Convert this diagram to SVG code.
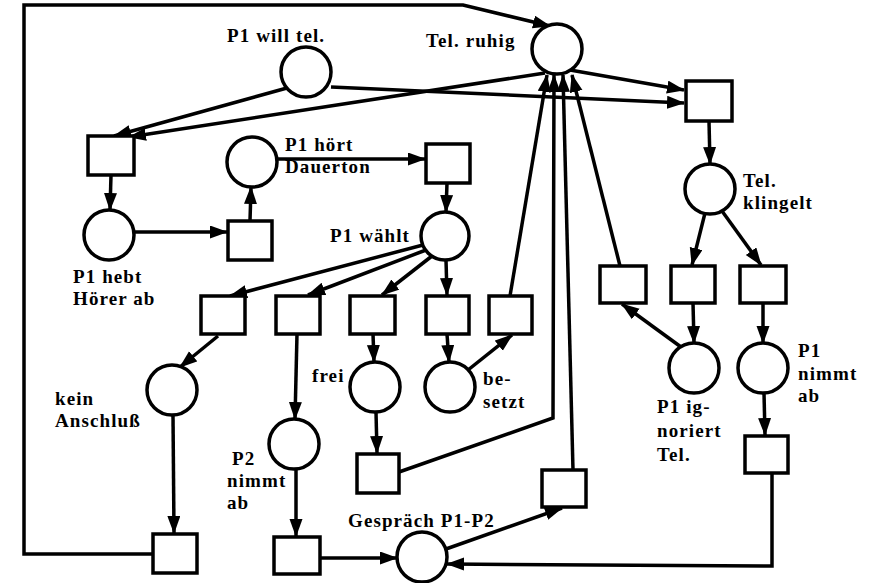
<svg xmlns="http://www.w3.org/2000/svg" width="874" height="583" viewBox="0 0 874 583">
<defs>
<marker id="ah" markerUnits="userSpaceOnUse" markerWidth="19" markerHeight="14" refX="17" refY="6.5" orient="auto">
<path d="M0,0 L18,6.5 L0,13 z" fill="#000"/>
</marker>
<style>
.p{fill:#fff;stroke:#000;stroke-width:3.5}
.t{fill:#fff;stroke:#000;stroke-width:3.5}
.c{fill:none;stroke:#000;stroke-width:3.5;stroke-linejoin:miter}
.a{marker-end:url(#ah)}
text{font-family:"Liberation Serif","Times New Roman",serif;font-weight:bold;font-size:19px;letter-spacing:1.1px;fill:#000}
</style>
</defs>
<rect width="874" height="583" fill="#fff"/>
<g id="connectors">
<path class="c a" d="M153,554 L24,554 L24,5 L463,5 L550,26"/>
<path class="c a" d="M287,88 L114,136"/>
<path class="c a" d="M545,73 L129,137"/>
<path class="c a" d="M570,70 L684,90"/>
<path class="c a" d="M331,87 L684,103"/>
<path class="c a" d="M111,175 L110,210"/>
<path class="c a" d="M134,232 L227,232"/>
<path class="c a" d="M250,221 L251,187"/>
<path class="c a" d="M277,159 L425,159"/>
<path class="c a" d="M447,183 L446,212"/>
<path class="c a" d="M423,245 L230,296"/>
<path class="c a" d="M426,250 L308,295"/>
<path class="c a" d="M432,256 L382,295"/>
<path class="c a" d="M446,260 L447,295"/>
<path class="c a" d="M218,336 L180,367"/>
<path class="c a" d="M173,415 L174,533"/>
<path class="c a" d="M297,334 L295,419"/>
<path class="c a" d="M296,469 L296,536"/>
<path class="c a" d="M320,558 L397,558"/>
<path class="c a" d="M373,334 L374,362"/>
<path class="c a" d="M376,412 L377,453"/>
<path class="c a" d="M399,472 L553,418 L554,75"/>
<path class="c a" d="M447,334 L449,362"/>
<path class="c a" d="M468,370 L512,335"/>
<path class="c a" d="M510,296 L547,75"/>
<path class="c a" d="M573,470 L563,75"/>
<path class="c a" d="M620,266 L572,75"/>
<path class="c a" d="M446,549 L562,508"/>
<path class="c a" d="M772,473 L772,566 L447,564"/>
<path class="c a" d="M709,121 L710,164"/>
<path class="c a" d="M705,213 L692,265"/>
<path class="c a" d="M722,211 L761,265"/>
<path class="c a" d="M693,303 L694,343"/>
<path class="c a" d="M763,303 L763,343"/>
<path class="c a" d="M681,347 L622,304"/>
<path class="c a" d="M764,393 L765,435"/>
</g>
<g id="p-tel-ruhig"><circle class="p" cx="557" cy="49" r="25"/><text x="426" y="47">Tel. ruhig</text></g>
<g id="p-p1-will-tel"><circle class="p" cx="306" cy="72" r="25"/><text x="227" y="42">P1 will tel.</text></g>
<g id="p-p1-hoert-dauerton"><circle class="p" cx="252" cy="162" r="25"/><text x="285" y="151">P1 hört</text><text x="285" y="173">Dauerton</text></g>
<g id="p-p1-hebt-hoerer-ab"><circle class="p" cx="109" cy="235" r="25"/><text x="73" y="283">P1 hebt</text><text x="73" y="305">Hörer ab</text></g>
<g id="p-p1-waehlt"><circle class="p" cx="445" cy="236" r="24"/><text x="330" y="242">P1 wählt</text></g>
<g id="p-tel-klingelt"><circle class="p" cx="710" cy="189" r="25"/><text x="743" y="187">Tel.</text><text x="743" y="209">klingelt</text></g>
<g id="p-kein-anschluss"><circle class="p" cx="172" cy="390" r="25"/><text x="55" y="405">kein</text><text x="55" y="427">Anschluß</text></g>
<g id="p-frei"><circle class="p" cx="375" cy="387" r="25"/><text x="312" y="382">frei</text></g>
<g id="p-besetzt"><circle class="p" cx="450" cy="387" r="25"/><text x="483" y="385">be-</text><text x="483" y="408">setzt</text></g>
<g id="p-p2-nimmt-ab"><circle class="p" cx="294" cy="444" r="25"/><text x="232" y="465">P2</text><text x="227" y="487">nimmt</text><text x="227" y="509">ab</text></g>
<g id="p-gespraech"><circle class="p" cx="422" cy="557" r="25"/><text x="348" y="527">Gespräch P1-P2</text></g>
<g id="p-p1-ignoriert"><circle class="p" cx="694" cy="368" r="25"/><text x="657" y="413">P1 ig-</text><text x="657" y="437">noriert</text><text x="657" y="461">Tel.</text></g>
<g id="p-p1-nimmt-ab"><circle class="p" cx="763" cy="368" r="25"/><text x="798" y="357">P1</text><text x="798" y="380">nimmt</text><text x="798" y="402">ab</text></g>
<g id="t1"><rect class="t" x="88" y="136" width="46" height="39"/></g>
<g id="t2"><rect class="t" x="426" y="144" width="44" height="39"/></g>
<g id="t3"><rect class="t" x="228" y="221" width="44" height="39"/></g>
<g id="t-top"><rect class="t" x="686" y="81" width="46" height="40"/></g>
<g id="ta"><rect class="t" x="201" y="296" width="44" height="38"/></g>
<g id="tb"><rect class="t" x="276" y="296" width="44" height="38"/></g>
<g id="tc"><rect class="t" x="350" y="296" width="45" height="38"/></g>
<g id="td"><rect class="t" x="426" y="296" width="43" height="38"/></g>
<g id="te"><rect class="t" x="489" y="296" width="43" height="38"/></g>
<g id="tr1"><rect class="t" x="600" y="266" width="46" height="37"/></g>
<g id="tr2"><rect class="t" x="671" y="266" width="44" height="37"/></g>
<g id="tr3"><rect class="t" x="740" y="266" width="46" height="37"/></g>
<g id="t-frei"><rect class="t" x="357" y="454" width="42" height="39"/></g>
<g id="t-right"><rect class="t" x="542" y="470" width="44" height="37"/></g>
<g id="t-nimmt"><rect class="t" x="745" y="436" width="43" height="37"/></g>
<g id="t-kein"><rect class="t" x="153" y="534" width="44" height="39"/></g>
<g id="t-p2"><rect class="t" x="274" y="537" width="46" height="37"/></g>
</svg>
